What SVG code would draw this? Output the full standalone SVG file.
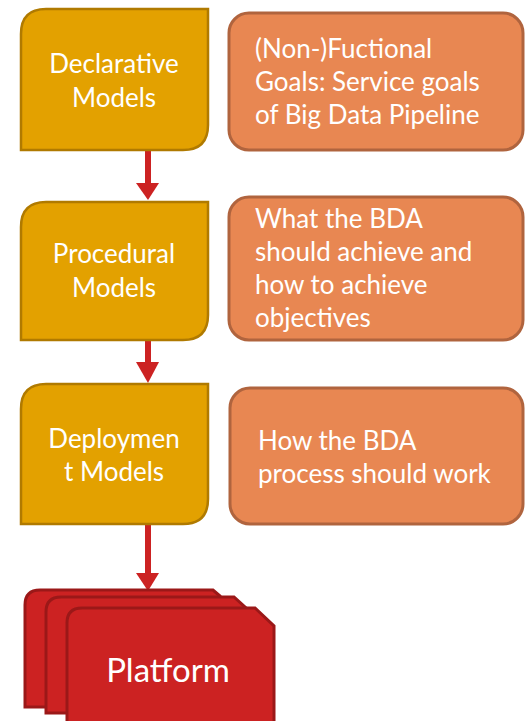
<svg xmlns="http://www.w3.org/2000/svg" width="526" height="721" viewBox="0 0 526 721">
<style>
.model{fill:#E3A100;stroke:#B07A00;stroke-width:2.5}
.desc{fill:#E88752;stroke:#B0643E;stroke-width:3}
.plat{fill:#CC2222;stroke:#9B1818;stroke-width:3}
text{font-family:Lato,"Open Sans",sans-serif;fill:#FFFFFF}
.c{text-anchor:middle;font-size:26px}
.l{font-size:26px}
.big{font-size:33px;text-anchor:middle}
.conn{stroke:#CC2222;stroke-width:6;fill:none}
.head{fill:#CC2222}
</style>
<rect width="526" height="721" fill="#FFFFFF"/>
<g id="connectors">
<line class="conn" x1="148" y1="150" x2="148" y2="185"/>
<polygon class="head" points="136,183 159,183 148,200"/>
<line class="conn" x1="148" y1="340" x2="148" y2="364"/>
<polygon class="head" points="136,362 159,362 148,383"/>
<line class="conn" x1="148" y1="524" x2="148" y2="575"/>
<polygon class="head" points="136,573 159,573 148,591"/>
</g>
<g id="declarative">
<path class="model" d="M21,150 V34 Q21,9 46,9 H208 V125 Q208,150 183,150 Z"/>
<text class="c" x="114" y="73">Declarative</text>
<text class="c" x="114" y="107">Models</text>
</g>
<g id="goals">
<rect class="desc" x="229" y="13" width="294" height="137" rx="20"/>
<text class="l" x="255" y="58">(Non-)Fuctional</text>
<text class="l" x="255" y="91">Goals: Service goals</text>
<text class="l" x="255" y="124">of Big Data Pipeline</text>
</g>
<g id="procedural">
<path class="model" d="M21,340 V227 Q21,202 46,202 H208 V315 Q208,340 183,340 Z"/>
<text class="c" x="114" y="263">Procedural</text>
<text class="c" x="114" y="297">Models</text>
</g>
<g id="what">
<rect class="desc" x="229" y="197" width="294" height="143" rx="20"/>
<text class="l" x="255" y="228">What the BDA</text>
<text class="l" x="255" y="261">should achieve and</text>
<text class="l" x="255" y="294">how to achieve</text>
<text class="l" x="255" y="327">objectives</text>
</g>
<g id="deployment">
<path class="model" d="M21,524 V409 Q21,384 46,384 H208 V499 Q208,524 183,524 Z"/>
<text class="c" x="114" y="448">Deploymen</text>
<text class="c" x="114" y="481">t Models</text>
</g>
<g id="how">
<rect class="desc" x="230" y="388" width="293" height="136" rx="20"/>
<text class="l" x="258" y="450">How the BDA</text>
<text class="l" x="258" y="483">process should work</text>
</g>
<g id="platform">
<path class="plat" d="M25,707 V605 Q25,590 40,590 H213 L220,596 V707 Z"/>
<path class="plat" d="M46,713 V612 Q46,597 61,597 H234 L246,608 V713 Z"/>
<path class="plat" d="M67,724 V623 Q67,608 82,608 H255 L274,626 V724 Z"/>
<text class="big" x="168" y="682">Platform</text>
</g>
</svg>
